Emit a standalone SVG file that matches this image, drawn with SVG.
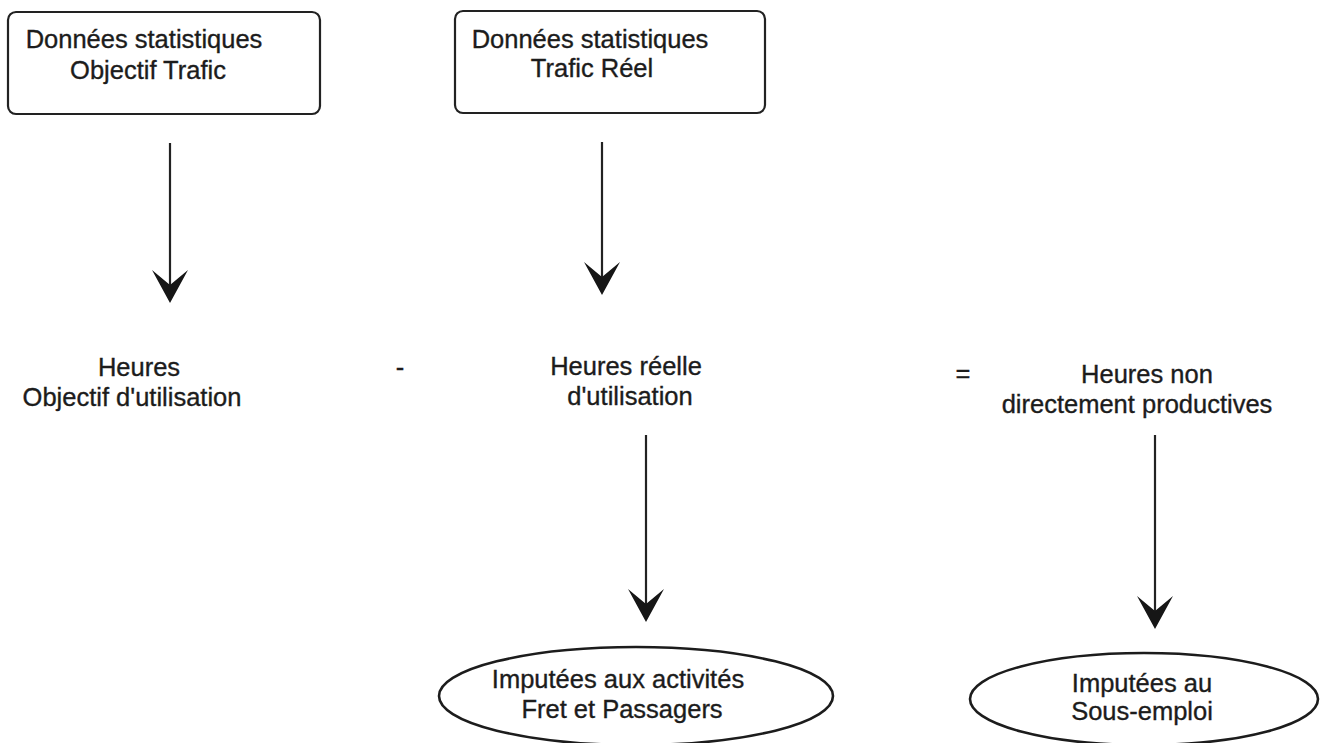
<svg xmlns="http://www.w3.org/2000/svg" width="1324" height="743" viewBox="0 0 1324 743">
<style>
.t{font-family:"Liberation Sans",Arial,sans-serif;font-size:25.5px;fill:#1c1c1c;stroke:#1c1c1c;stroke-width:0.35;text-anchor:middle}
.box{fill:#fff;stroke:#222;stroke-width:2.2}
.ell{fill:#fff;stroke:#1c1c1c;stroke-width:2.6}
.conn{stroke:#222;stroke-width:2.2;fill:none}
</style>
<defs>
<marker id="ah" markerUnits="userSpaceOnUse" viewBox="0 0 33 36" refX="15" refY="18" markerWidth="33" markerHeight="36" orient="auto">
<path d="M0,0 L33,18 L0,36 L15,18 Z" fill="#161616"/>
</marker>
</defs>
<rect width="1324" height="743" fill="#fff"/>
<g id="box-objectif">
<rect class="box" x="8" y="12" width="312" height="102" rx="8"/>
<text class="t" x="144" y="48">Données statistiques</text>
<text class="t" x="148" y="79">Objectif Trafic</text>
</g>
<g id="box-reel">
<rect class="box" x="455" y="11" width="310" height="102" rx="8"/>
<text class="t" x="590" y="48">Données statistiques</text>
<text class="t" x="592" y="77">Trafic Réel</text>
</g>
<g id="heures-objectif">
<text class="t" x="139" y="376">Heures</text>
<text class="t" x="132" y="406">Objectif d'utilisation</text>
</g>
<g id="minus">
<text class="t" x="400" y="376">-</text>
</g>
<g id="heures-reelle">
<text class="t" x="626" y="375">Heures réelle</text>
<text class="t" x="630" y="405">d'utilisation</text>
</g>
<g id="equals">
<text class="t" x="963" y="382">=</text>
</g>
<g id="heures-non-productives">
<text class="t" x="1147" y="383">Heures non</text>
<text class="t" x="1137" y="413">directement productives</text>
</g>
<g id="ellipse-fret">
<ellipse class="ell" cx="636" cy="696" rx="197" ry="49"/>
<text class="t" x="618" y="688">Imputées aux activités</text>
<text class="t" x="622" y="718">Fret et Passagers</text>
</g>
<g id="ellipse-sous-emploi">
<ellipse class="ell" cx="1144" cy="699" rx="174" ry="46"/>
<text class="t" x="1142" y="692">Imputées au</text>
<text class="t" x="1142" y="720">Sous-emploi</text>
</g>
<g id="connectors">
<line class="conn" x1="170" y1="143" x2="170" y2="285" marker-end="url(#ah)"/>
<line class="conn" x1="602" y1="142" x2="602" y2="277" marker-end="url(#ah)"/>
<line class="conn" x1="646" y1="435" x2="646" y2="604" marker-end="url(#ah)"/>
<line class="conn" x1="1155" y1="435" x2="1155" y2="611" marker-end="url(#ah)"/>
</g>
</svg>
